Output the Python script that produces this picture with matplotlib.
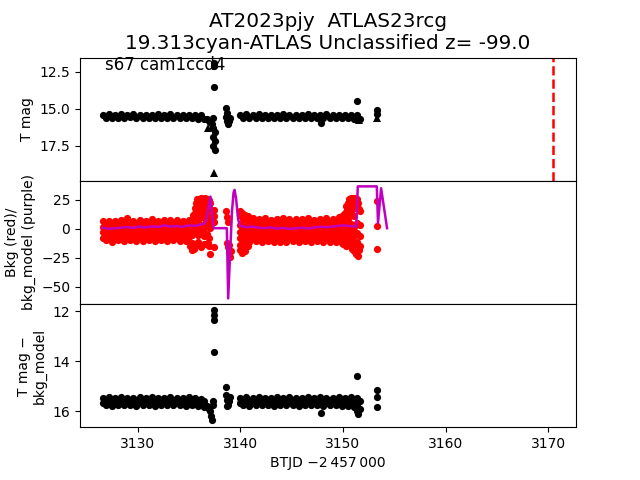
import matplotlib
matplotlib.use('Agg')
import matplotlib.pyplot as plt

# --- light curve, first orbit (BTJD - 2457000) ---
time1 = [3126.6, 3126.9, 3127.2, 3127.5, 3127.8, 3128.1, 3128.4, 3128.7, 3129.0, 3129.3,
         3129.6, 3129.9, 3130.2, 3130.5, 3130.8, 3131.1, 3131.4, 3131.7, 3132.0, 3132.3,
         3132.6, 3132.9, 3133.2, 3133.5, 3133.8, 3134.1, 3134.4, 3134.7, 3135.0, 3135.3,
         3135.6, 3135.9, 3136.2, 3136.5]
tmag1 = [15.40, 15.61, 15.37, 15.63, 15.42, 15.60, 15.38, 15.64, 15.41, 15.59,
         15.36, 15.62, 15.43, 15.60, 15.39, 15.65, 15.40, 15.61, 15.38, 15.63,
         15.42, 15.60, 15.37, 15.62, 15.41, 15.64, 15.39, 15.61, 15.42, 15.63,
         15.40, 15.66, 15.45, 15.70]
diff1_a = [15.47, 15.56, 15.45, 15.58, 15.48, 15.55, 15.44, 15.57, 15.46, 15.58,
           15.47, 15.55, 15.45, 15.57, 15.48, 15.56, 15.44, 15.58, 15.46, 15.55,
           15.47, 15.57, 15.45, 15.56, 15.48, 15.58, 15.46, 15.55, 15.44, 15.57,
           15.47, 15.58, 15.50, 15.60]
diff1_b = [15.67, 15.76, 15.65, 15.78, 15.68, 15.75, 15.66, 15.77, 15.64, 15.76,
           15.67, 15.78, 15.65, 15.75, 15.68, 15.77, 15.66, 15.79, 15.65, 15.76,
           15.67, 15.75, 15.64, 15.77, 15.68, 15.76, 15.66, 15.78, 15.65, 15.77,
           15.68, 15.80, 15.72, 15.85]
bkg1_hi = [6.5, 4.0, 7.2, 4.5, 6.8, 4.2, 7.5, 4.8, 9.5, 4.4, 7.0, 4.6, 7.8, 4.3, 6.9, 5.0, 8.2,
           4.5, 7.1, 4.7, 7.6, 4.2, 8.0, 4.9, 7.3, 4.5, 6.8, 4.4, 7.7, 5.2, 10.5, 8.0, 12.0, 9.0]
bkg1_m1 = [2.0, -0.5, 1.8, -0.8, 2.3, -0.3, 1.9, -0.6, 2.1, -0.4, 2.4, -0.7, 1.7, -0.5, 2.2, -0.2, 1.9,
           -0.6, 2.0, -0.4, 2.3, -0.5, 1.8, -0.3, 2.1, -0.6, 1.9, -0.4, 2.2, -0.5, 2.5, 0.0, 3.0, 1.0]
bkg1_m2 = [-3.0, -5.5, -2.8, -5.8, -3.2, -5.3, -2.9, -5.6, -3.1, -5.4, -2.7, -5.7, -3.3, -5.5, -3.0, -5.2, -2.8,
           -5.6, -3.1, -5.4, -2.9, -5.8, -3.2, -5.3, -3.0, -5.5, -2.8, -5.7, -3.1, -5.4, -3.0, -5.6, -3.5, -6.0]
bkg1_lo = [-7.5, -10.0, -7.8, -11.2, -7.3, -9.8, -7.6, -10.3, -7.4, -9.9, -7.7, -10.5, -7.2, -10.1, -7.5, -9.7, -7.8,
           -10.4, -7.3, -10.0, -7.6, -10.2, -7.4, -9.8, -7.7, -10.6, -7.5, -10.1, -7.3, -12.0, -14.0, -11.0, -16.0, -13.0]

# --- second orbit ---
time3 = [3140.0, 3140.3, 3140.6, 3140.9, 3141.2, 3141.5, 3141.8, 3142.1, 3142.4, 3142.7,
         3143.0, 3143.3, 3143.6, 3143.9, 3144.2, 3144.5, 3144.8, 3145.1, 3145.4, 3145.7,
         3146.0, 3146.3, 3146.6, 3146.9, 3147.2, 3147.5, 3147.8, 3148.1, 3148.4, 3148.7,
         3149.0, 3149.3, 3149.6, 3149.9, 3150.2, 3150.5, 3150.8, 3151.1, 3151.4, 3151.7]
tmag3 = [15.40, 15.62, 15.38, 15.64, 15.41, 15.60, 15.37, 15.63, 15.42, 15.61,
         15.39, 15.65, 15.40, 15.62, 15.38, 15.60, 15.43, 15.63, 15.39, 15.61,
         15.41, 15.64, 15.37, 15.62, 15.40, 15.60, 15.42, 15.63, 15.38, 15.61,
         15.41, 15.64, 15.39, 15.62, 15.43, 15.65, 15.40, 15.68, 15.45, 15.72]
diff3_a = [15.46, 15.57, 15.44, 15.58, 15.47, 15.55, 15.45, 15.57, 15.48, 15.56,
           15.46, 15.58, 15.44, 15.55, 15.47, 15.57, 15.45, 15.56, 15.48, 15.58,
           15.46, 15.55, 15.44, 15.57, 15.47, 15.56, 15.45, 15.58, 15.46, 15.55,
           15.48, 15.57, 15.44, 15.56, 15.47, 15.58, 15.45, 15.57, 15.48, 15.60]
diff3_b = [15.66, 15.77, 15.64, 15.78, 15.67, 15.75, 15.65, 15.77, 15.68, 15.76,
           15.66, 15.78, 15.64, 15.75, 15.67, 15.77, 15.65, 15.76, 15.68, 15.79,
           15.66, 15.75, 15.64, 15.77, 15.67, 15.76, 15.65, 15.78, 15.66, 15.75,
           15.68, 15.77, 15.65, 15.78, 15.67, 15.80, 15.70, 15.85, 15.75, 15.90]
bkg3_hi = [12.0, 8.0, 10.5, 6.5, 9.0, 6.0, 8.5, 5.8, 9.2, 6.2, 8.0, 5.5, 8.8, 6.0, 9.5, 6.3, 8.2, 5.7, 8.9, 6.1,
           8.4, 5.9, 9.1, 6.4, 8.0, 5.6, 8.7, 6.0, 9.3, 6.2, 8.5, 6.5, 9.8, 7.0, 11.0, 8.5, 14.0, 11.0, 18.0, 15.0]
bkg3_m1 = [3.0, 0.5, 2.8, 0.2, 3.2, 0.4, 2.7, 0.1, 3.0, 0.5, 2.9, 0.3, 3.3, 0.0, 2.8, 0.4, 3.1, 0.2, 2.9, 0.5,
           3.0, 0.1, 2.7, 0.3, 3.2, 0.4, 2.8, 0.0, 3.1, 0.3, 2.9, 0.5, 3.2, 0.6, 3.5, 1.0, 4.0, 2.0, 5.0, 3.0]
bkg3_m2 = [-2.5, -5.0, -2.3, -5.3, -2.6, -4.8, -2.4, -5.1, -2.7, -5.2, -2.2, -4.9, -2.5, -5.4, -2.8, -5.0, -2.3, -5.2, -2.6, -4.9,
           -2.4, -5.3, -2.7, -5.0, -2.5, -5.1, -2.3, -4.8, -2.6, -5.2, -2.4, -5.0, -2.8, -5.3, -2.5, -5.5, -3.0, -6.0, -3.5, -6.5]
bkg3_lo = [-8.0, -10.5, -7.8, -11.0, -8.2, -10.8, -7.6, -11.5, -8.1, -10.6, -7.9, -11.2, -8.3, -10.9, -7.7, -11.4, -8.0, -10.7, -8.2, -11.1,
           -7.8, -10.5, -8.1, -11.3, -7.9, -10.8, -8.3, -11.0, -7.6, -11.6, -8.0, -10.9, -8.4, -12.0, -9.0, -13.0, -10.0, -14.0, -11.0, -15.0]

# --- isolated points around the gaps and at the edges ---
tmag_x_t = [3136.8, 3137.0, 3137.1, 3137.3, 3137.35, 3137.5, 3137.4, 3137.5, 3137.4, 3137.5, 3137.35,
            3137.45, 3137.45, 3137.45,
            3138.6, 3138.65, 3138.7, 3138.8, 3138.9, 3139.0, 3138.75,
            3147.85, 3151.35, 3153.3, 3153.35]
tmag_x_v = [15.70, 15.80, 15.90, 16.00, 16.30, 16.60, 16.90, 17.20, 17.50, 17.80, 15.60,
            12.10, 11.92, 13.50,
            14.95, 15.55, 15.80, 16.00, 15.85, 15.65, 15.30,
            15.95, 14.50, 15.11, 15.35]
lim_t = [3136.9, 3137.44, 3151.6, 3153.3]
lim_v = [16.3, 19.32, 15.75, 15.6]

diff_x_t = [3136.8, 3137.0, 3137.1, 3137.2, 3137.3, 3137.4, 3137.45, 3137.45, 3137.45, 3137.4, 3137.45,
            3138.6, 3138.65, 3138.7, 3138.8, 3138.9, 3139.0, 3138.75,
            3147.85, 3151.35, 3151.4, 3151.5, 3151.6,
            3153.3, 3153.3, 3153.3]
diff_x_v = [15.80, 15.90, 16.00, 16.20, 16.35, 15.60, 11.96, 12.16, 12.36, 15.75, 13.63,
            15.04, 15.35, 15.55, 15.75, 15.60, 15.45, 15.80,
            16.08, 14.60, 16.00, 16.10, 15.90,
            15.16, 15.44, 15.84]

bkg_x_t = [3135.4, 3135.6, 3135.8, 3136.0, 3136.2, 3136.4, 3136.6, 3136.8, 3137.0,
           3135.6, 3135.8, 3136.0, 3136.2, 3136.4, 3136.6, 3136.8, 3137.0,
           3135.7, 3135.9, 3136.1, 3136.3, 3136.5, 3136.7, 3136.9, 3137.05,
           3135.8, 3136.0, 3136.2, 3136.4, 3136.6, 3136.8, 3137.0,
           3136.7, 3136.9, 3137.05, 3136.7, 3136.9, 3137.05, 3136.75, 3136.95,
           3135.1, 3135.3, 3135.5, 3135.7, 3136.7, 3136.9, 3137.0, 3137.1,
           3137.45, 3137.45, 3137.45, 3137.45,
           3138.6, 3138.7, 3138.8, 3138.7, 3138.8, 3138.9, 3139.0, 3138.95, 3139.1,
           3140.0, 3140.15, 3140.45, 3140.75, 3140.0, 3140.15, 3140.45, 3140.0, 3140.15, 3140.45, 3140.75, 3140.15,
           3150.0, 3150.2, 3150.4, 3150.6, 3150.8, 3151.0, 3151.2, 3151.4, 3151.6,
           3150.3, 3150.5, 3150.7, 3150.9, 3151.1, 3151.3, 3151.5,
           3150.6, 3150.8, 3151.0, 3151.2, 3151.4,
           3150.0, 3150.3, 3150.6, 3150.9, 3151.1, 3151.3, 3151.5, 3151.6,
           3153.3, 3153.3, 3153.3]
bkg_x_v = [12, 14, 15, 14, 15, 14, 15, 14, 13,
           18, 19, 20, 19, 20, 19, 20, 18,
           22, 24, 23, 24, 23, 24, 23, 22,
           26, 26, 26.5, 26, 26.5, 26, 25,
           10, 9, 8, 5, 3, 1, -4, -8,
           -15, -18, -17, -14, -13, -12, -15, -22,
           16, 11, 6, -15.5,
           15, 10, 6, -12, -16, -20, -24, -14, -19,
           15, 14, 12, 11, -14, -16, -14, -18, -21, -19, -15, 10,
           12, 14, 16, 17, 18, 19, 18, 19, 17,
           20, 22, 23, 24, 23, 24, 22,
           26, 27, 26.5, 27, 26,
           -13, -15, -14, -17, -19, -22, -23, -18,
           24.4, 2.6, -17]

# --- background model (purple line) ---
model_t = [3126.6, 3127.2, 3127.8, 3128.4, 3129.0, 3129.6, 3130.2, 3130.8, 3131.4, 3132.0,
           3132.6, 3133.2, 3133.8, 3134.4, 3135.0, 3135.6, 3136.2,
           3136.5, 3136.7, 3136.9, 3137.1, 3137.25, 3137.4,
           3138.7, 3138.83, 3139.0, 3139.2, 3139.35, 3139.45, 3139.6, 3139.8, 3140.0,
           3140.6, 3141.2, 3141.8, 3142.4, 3143.0, 3143.6, 3144.2, 3144.8, 3145.4, 3146.0,
           3146.6, 3147.2, 3147.8, 3148.4, 3149.0, 3149.6, 3150.2, 3150.8,
           3151.3, 3151.45, 3153.3, 3153.42, 3153.72, 3154.3]
model_v = [1.0, 0.0, 0.5, 1.0, 1.5, 0.8, 2.0, 1.2, 2.2, 1.6,
           3.0, 2.0, 2.4, 1.8, 3.0, 2.6, 3.8,
           4.5, 8.0, 18.0, 27.8, 14.0, 0.6,
           0.6, -59.9, -25.0, 15.0, 31.0, 33.6, 26.0, 8.0, 2.5,
           1.5, 2.0, 1.0, 0.6, 1.2, 0.2, 0.8, 0.0, 0.5, 1.0,
           0.3, 1.2, 1.8, 1.4, 2.0, 2.6, 3.0, 2.2,
           2.0, 36.6, 36.6, 5.0, 35.0, 0.6]

disc_time = 3170.48

fig, axes = plt.subplots(3, 1, sharex=True, figsize=(6.4, 4.8))
plt.subplots_adjust(hspace=0)
ax1, ax2, ax3 = axes
ms = 5.2

# top: T mag
for t, m in [(time1, tmag1), (time3, tmag3), (tmag_x_t, tmag_x_v)]:
    ax1.plot(t, m, 'ko', ms=ms, mew=0)
ax1.plot(lim_t, lim_v, 'k^', ms=6, mew=0)
ax1.axvline(disc_time, color='r', ls='--', lw=1.8)
ax1.set_ylim(19.86, 11.55)
ax1.set_yticks([12.5, 15.0, 17.5])
ax1.set_ylabel('T mag')
ax1.text(0.05, 0.9, 's67 cam1ccd4', transform=ax1.transAxes, fontsize=12)
ax1.set_title('AT2023pjy  ATLAS23rcg\n19.313cyan-ATLAS Unclassified z= -99.0', fontsize=14.4)

# middle: background and model
for t, rows in [(time1, [bkg1_hi, bkg1_m1, bkg1_m2, bkg1_lo]),
                (time3, [bkg3_hi, bkg3_m1, bkg3_m2, bkg3_lo])]:
    for r in rows:
        ax2.plot(t, r, 'ro', ms=ms, mew=0)
ax2.plot(bkg_x_t, bkg_x_v, 'ro', ms=ms, mew=0)
ax2.plot(model_t, model_v, color='m', lw=1.8)
ax2.set_ylim(-64.7, 41.4)
ax2.set_yticks([25, 0, -25, -50])
ax2.set_ylabel('Bkg (red)/\nbkg_model (purple)')

# bottom: T mag - bkg model
for t, rows in [(time1, [diff1_a, diff1_b]), (time3, [diff3_a, diff3_b])]:
    for r in rows:
        ax3.plot(t, r, 'ko', ms=ms, mew=0)
ax3.plot(diff_x_t, diff_x_v, 'ko', ms=ms, mew=0)
ax3.set_ylim(16.64, 11.72)
ax3.set_yticks([12, 14, 16])
ax3.set_ylabel('T mag \u2212\nbkg_model')

ax3.set_xlim(3124.4, 3172.7)
ax3.set_xlabel('BTJD \u22122\u2009457\u2009000')

plt.savefig('out.png')
